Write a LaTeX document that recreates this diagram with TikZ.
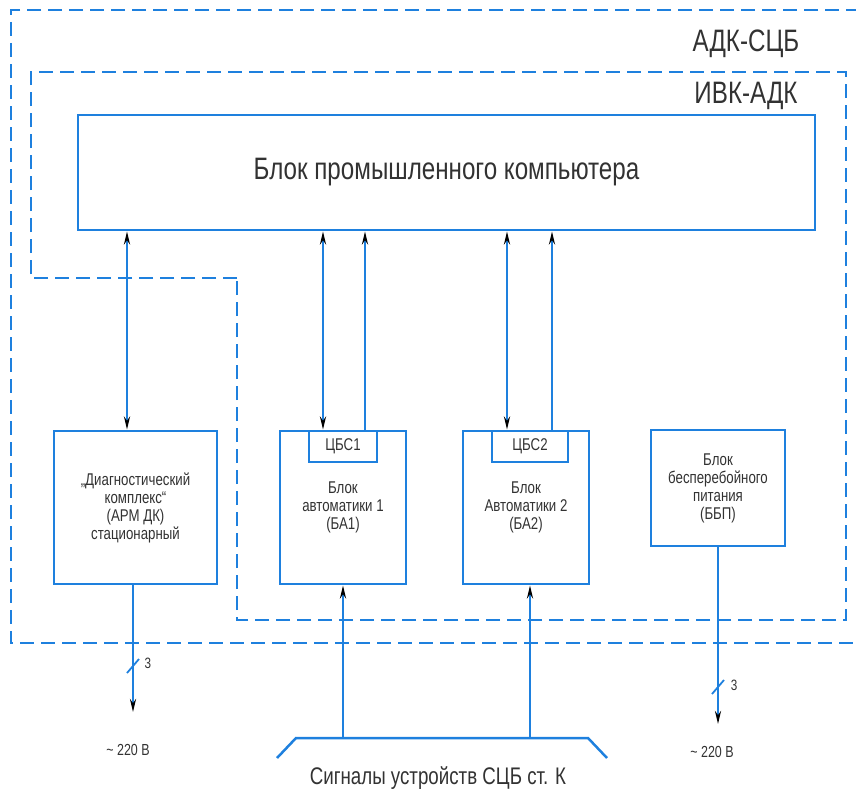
\documentclass[tikz,border=0pt]{standalone}
\usepackage{fontspec}
\setmainfont{Liberation Sans}[FakeStretch=0.78]
\usetikzlibrary{arrows.meta}
\definecolor{lblue}{RGB}{30,128,222}
\definecolor{txt}{RGB}{50,50,50}
\tikzset{
  blk/.style={draw=lblue, line width=2.8pt, align=center, inner sep=0pt, text=txt, font=\fontsize{17}{18}\selectfont},
  dsh/.style={draw=lblue, line width=2.8pt, dash pattern=on 14pt off 7pt},
  wire/.style={draw=lblue, line width=2.5pt},
  tip/.style={-{Stealth[black, length=13pt, width=6pt]}},
  tips/.style={{Stealth[black, length=13pt, width=6pt]}-{Stealth[black, length=13pt, width=6pt]}},
  lbl/.style={text=txt, inner sep=0pt}
}
\begin{document}
\begin{tikzpicture}[x=1pt,y=-1pt]
\useasboundingbox (0,0) rectangle (856,792);
% dashed frames
\draw[dsh] (860,10) -- (11,10) -- (11,643) -- (860,643);
\draw[dsh] (237,278) -- (31,278) -- (31,72) -- (846,72) -- (846,620) -- (237,620) -- cycle;
\node[lbl, font=\fontsize{31}{31}\selectfont] (t1) at (746,44) {АДК-СЦБ};
\node[lbl, font=\fontsize{31}{31}\selectfont] (t2) at (746,96) {ИВК-АДК};
% blocks
\node[blk, minimum width=737pt, minimum height=115pt, font=\fontsize{31}{33}\selectfont] (comp) at (446.5,172.5) {Блок промышленного компьютера};
\node[blk, minimum width=163pt, minimum height=153pt] (dk) at (135.5,507.5) {„Диагностический\\комплекс“\\(АРМ ДК)\\стационарный};
\node[blk, minimum width=126pt, minimum height=153pt] (ba1) at (343,507.5) {Блок\\автоматики 1\\(БА1)};
\node[blk, minimum width=68pt, minimum height=31pt] (cbs1) at (343,446.5) {ЦБС1};
\node[blk, minimum width=126pt, minimum height=153pt] (ba2) at (526,507.5) {Блок\\Автоматики 2\\(БА2)};
\node[blk, minimum width=76pt, minimum height=31pt] (cbs2) at (530,446.5) {ЦБС2};
\node[blk, minimum width=134pt, minimum height=116pt] (bbp) at (718,488) {Блок\\бесперебойного\\питания\\(ББП)};
% x positions
\coordinate (xa) at (127,0);
\coordinate (xb) at (323,0);
\coordinate (xc) at (365,0);
\coordinate (xd) at (507,0);
\coordinate (xe) at (552,0);
\coordinate (xf) at (343,0);
\coordinate (xg) at (530,0);
\coordinate (xh) at (133,0);
\coordinate (xi) at (718,0);
% connectors to computer
\draw[wire, tips] (comp.south -| xa) -- (dk.north -| xa);
\draw[wire, tips] (comp.south -| xb) -- (ba1.north -| xb);
\draw[wire, tip] (cbs1.north -| xc) -- (comp.south -| xc);
\draw[wire, tips] (comp.south -| xd) -- (ba2.north -| xd);
\draw[wire, tip] (cbs2.north -| xe) -- (comp.south -| xe);
% bus
\coordinate (bl) at (296,738);
\coordinate (br) at (588,738);
\draw[wire] (277,758) -- (bl) -- (br) -- (607,758);
\draw[wire, tip] (bl -| xf) -- (ba1.south -| xf);
\draw[wire, tip] (bl -| xg) -- (ba2.south -| xg);
\node[lbl, font=\fontsize{24}{24}\selectfont] (sig) at (438,778) {Сигналы устройств СЦБ ст. К};
% power
\coordinate (p1) at (133,712);
\coordinate (p2) at (718,724);
\draw[wire, tip] (dk.south -| xh) -- (p1);
\draw[wire, tip] (bbp.south -| xi) -- (p2);
\draw[wire, line width=1.8pt] (127,673) -- (139,659);
\draw[wire, line width=1.8pt] (712,694) -- (724,680);
\node[lbl, font=\fontsize{15}{15}\selectfont] (n1) at (148,663) {3};
\node[lbl, font=\fontsize{15}{15}\selectfont] (n2) at (734,685) {3};
\node[lbl, font=\fontsize{16}{16}\selectfont] (v1) at (128,750) {\textasciitilde\ 220 В};
\node[lbl, font=\fontsize{16}{16}\selectfont] (v2) at (712,752) {\textasciitilde\ 220 В};
\end{tikzpicture}
\end{document}
